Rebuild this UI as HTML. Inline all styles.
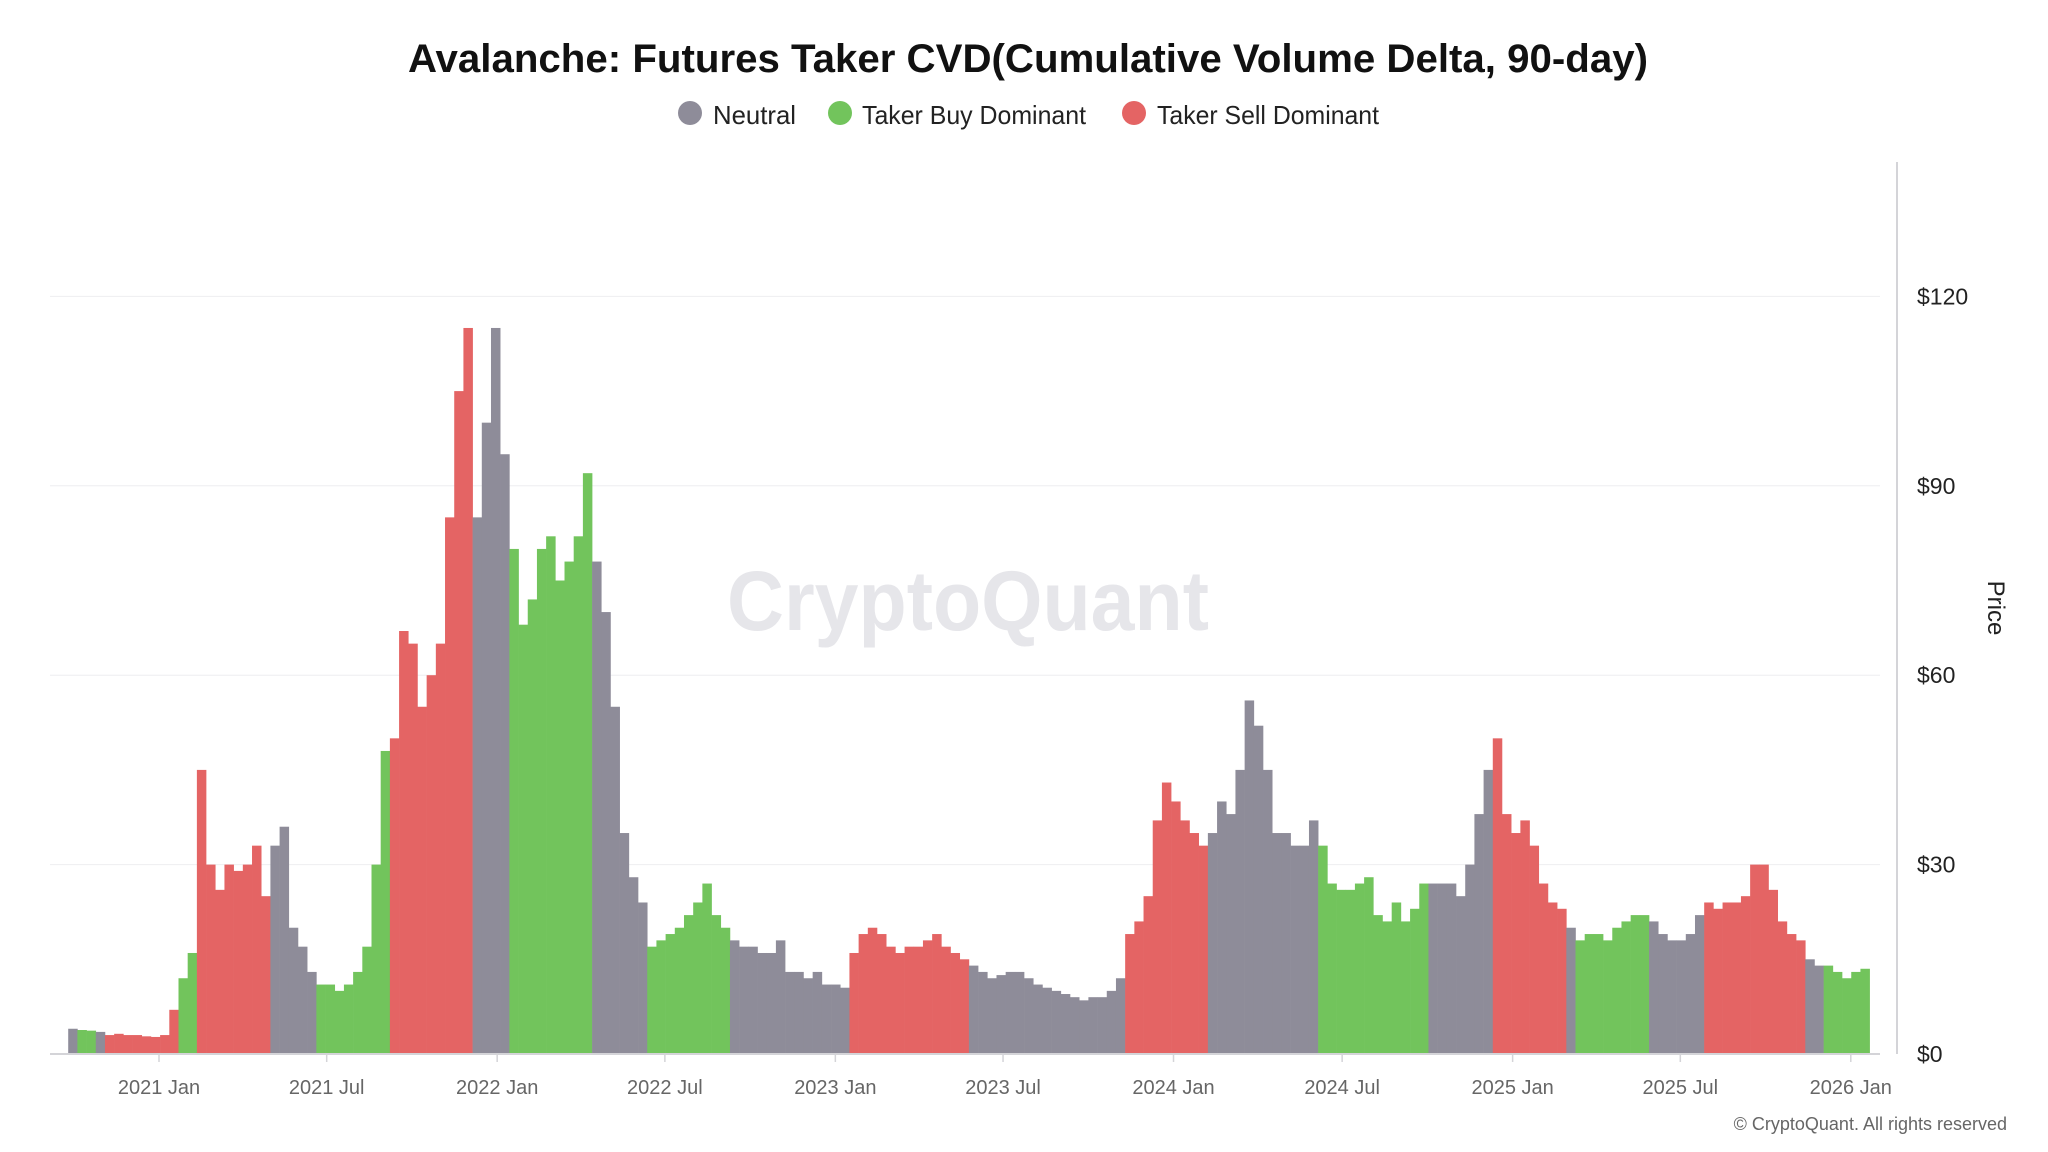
<!DOCTYPE html>
<html><head><meta charset="utf-8"><style>
html,body{margin:0;padding:0;background:#fff;}
svg{display:block;font-family:"Liberation Sans",sans-serif;}
</style></head><body>
<svg id="chart" width="2048" height="1152" viewBox="0 0 2048 1152">
<text x="1028" y="72" text-anchor="middle" font-size="40" font-weight="bold" fill="#111" textLength="1240" lengthAdjust="spacingAndGlyphs">Avalanche: Futures Taker CVD(Cumulative Volume Delta, 90-day)</text>
<g>
<g><circle cx="690" cy="113" r="12" fill="#8e8c99"/><text x="713" y="124" font-size="26" fill="#222" textLength="83" lengthAdjust="spacingAndGlyphs">Neutral</text></g>
<g><circle cx="840" cy="113" r="12" fill="#72c45c"/><text x="862" y="124" font-size="26" fill="#222" textLength="224" lengthAdjust="spacingAndGlyphs">Taker Buy Dominant</text></g>
<g><circle cx="1134" cy="113" r="12" fill="#e46464"/><text x="1157" y="124" font-size="26" fill="#222" textLength="222" lengthAdjust="spacingAndGlyphs">Taker Sell Dominant</text></g>
</g>
<text x="968" y="630" text-anchor="middle" font-size="84" font-weight="bold" fill="#e6e6ea" textLength="482" lengthAdjust="spacingAndGlyphs">CryptoQuant</text>
<g id="grid"></g>
<g id="bars"></g>
<g id="xaxis"></g>
<g id="yaxis"></g>
<line x1="1897" y1="162" x2="1897" y2="1054" stroke="#d4d4d8" stroke-width="2"/>
<text transform="translate(1988,608) rotate(90)" text-anchor="middle" font-size="24" fill="#222">Price</text>
<text x="2007" y="1130" text-anchor="end" font-size="18" fill="#666">© CryptoQuant. All rights reserved</text>
</svg>
<script>
const prices = [4,3.8,3.7,3.5,3,3.2,3,3,2.8,2.7,3,7,12,16,45,30,26,30,29,30,33,25,
33,36,20,17,13,11,11,10,11,13,17,30,48,50,67,65,55,60,65,85,105,115,85,100,115,95,
80,68,72,80,82,75,78,82,92,78,70,55,35,28,24,17,18,19,20,22,24,27,22,20,
18,17,17,16,16,18,13,13,12,13,11,11,10.5,16,19,20,19,17,16,17,17,18,19,17,16,15,
14,13,12,12.5,13,13,12,11,10.5,10,9.5,9,8.5,9,9,10,12,19,21,25,37,43,40,37,35,33,
35,40,38,45,56,52,45,35,35,33,33,37,33,27,26,26,27,28,22,21,24,21,23,27,
27,27,27,25,30,38,45,50,38,35,37,33,27,24,23,20,18,19,19,18,20,21,22,22,
21,19,18,18,19,22,24,23,24,24,25,30,30,26,21,19,18,15,14,14,13,12,13,13.5];
const regimes = "NBBNSSSSSSSSBBSSSSSSSSNNNNNBBBBBBBBSSSSSSSSSNNNNBBBBBBBBBNNNNNNBBBBBBBBBNNNNNNNNNNNNNSSSSSSSSSSSSSNNNNNNNNNNNNNNNNNSSSSSSSSSNNNNNNNNNNNNBBBBBBBBBBBBNNNNNNNSSSSSSSSNBBBBBBBBNNNNNNSSSSSSSSSSSNNBBBBB";
const yTicks = [0,30,60,90,120];
const xTickLabels = ["2021 Jan","2021 Jul","2022 Jan","2022 Jul","2023 Jan","2023 Jul","2024 Jan","2024 Jul","2025 Jan","2025 Jul","2026 Jan"];
const xTickDays = [0,181,365,546,730,911,1095,1277,1461,1642,1826];
const bucketDays = 9.92;
const startDay = -98;

const NS="http://www.w3.org/2000/svg";
const colors={N:"#8e8c99",B:"#72c45c",S:"#e46464"};
const y0=1054, pxPerDollar=189.4/30;
const xDay=d=>159+d*0.9265;
const yVal=v=>y0-v*pxPerDollar;
const mk=(t,a)=>{const e=document.createElementNS(NS,t);for(const k in a)e.setAttribute(k,a[k]);return e;};

const grid=document.getElementById('grid'), yaxis=document.getElementById('yaxis');
yTicks.forEach(v=>{
  if(v>0){const l=mk('line',{x1:50,x2:1880,y1:yVal(v),y2:yVal(v),stroke:"#eeeef0","stroke-width":1});
  
  
  grid.appendChild(l);}
  const t=mk('text',{x:1917,y:yVal(v)+8,"font-size":23,fill:"#222"});
  t.textContent="$"+v;
  
  
  yaxis.appendChild(t);
});
const bars=document.getElementById('bars');
prices.forEach((p,i)=>{
  const x1=xDay(startDay+i*bucketDays), x2=xDay(startDay+(i+1)*bucketDays);
  const r=mk('rect',{x:x1,y:yVal(p),width:x2-x1+0.3,height:y0-yVal(p),fill:colors[regimes[i]]});
  
  
  bars.appendChild(r);
});
const xaxis=document.getElementById('xaxis');
const base=mk('line',{x1:50,x2:1880,y1:y0,y2:y0,stroke:"#d4d4d8","stroke-width":2});


xaxis.appendChild(base);
xTickLabels.forEach((lab,i)=>{
  const x=xDay(xTickDays[i]);
  const tk=mk('line',{x1:x,x2:x,y1:y0,y2:y0+8,stroke:"#d4d4d8","stroke-width":1.5});
  
  
  xaxis.appendChild(tk);
  const t=mk('text',{x:x,y:1094,"text-anchor":"middle","font-size":20,fill:"#666"});
  t.textContent=lab;
  
  
  xaxis.appendChild(t);
});
</script>
</body></html>
